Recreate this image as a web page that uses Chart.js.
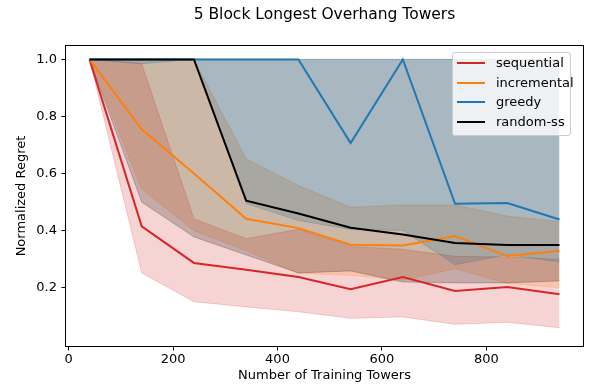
<!DOCTYPE html>
<html>
<head>
<meta charset="utf-8">
<script src="https://cdn.jsdelivr.net/npm/chart.js@4/dist/chart.umd.min.js"></script>
<style>
html,body{margin:0;padding:0;background:#fff;}
#wrap{position:relative;width:598px;height:385px;}
#title{position:absolute;left:124.5px;width:400px;top:5px;height:18px;line-height:18px;text-align:center;font-family:'DejaVu Sans',sans-serif;font-size:15.5px;color:#000;white-space:nowrap;}
#legend{position:absolute;left:452px;top:52px;width:119px;height:84px;box-sizing:border-box;border:1px solid #cccccc;border-radius:3px;background:rgba(255,255,255,0.8);font-family:'DejaVu Sans',sans-serif;font-size:13px;color:#000;}
.item{position:absolute;left:0;height:16px;width:115px;}
.sw{position:absolute;left:4px;top:7px;width:28px;height:2px;}
.lb{position:absolute;left:43px;top:0;line-height:16px;white-space:nowrap;}
</style>
</head>
<body>
<div id="wrap">
<canvas id="c" width="598" height="385"></canvas>
<div id="title"></div>
<div id="legend"></div>
</div>
<script>
// ---- data ----
const chartTitle = '5 Block Longest Overhang Towers';
const xLabel = 'Number of Training Towers';
const yLabel = 'Normalized Regret';
const xs = [40, 140, 240, 340, 440, 540, 640, 740, 840, 940];
const xTicks = [0, 200, 400, 600, 800];
const xTickLabels = ['0', '200', '400', '600', '800'];
const yTicks = [0.2, 0.4, 0.6, 0.8, 1.0];
const yTickLabels = ['0.2', '0.4', '0.6', '0.8', '1.0'];
const seriesNames = ['sequential', 'incremental', 'greedy', 'random-ss'];
const seriesColors = ['#d62728', '#ff7f0e', '#1f77b4', '#000000'];
const bandColors = ['rgba(214,39,40,0.2)', 'rgba(255,127,14,0.2)', 'rgba(31,119,180,0.2)', 'rgba(0,0,0,0.2)'];

const seqMean = [1.0, 0.415, 0.287, 0.263, 0.238, 0.195, 0.238, 0.189, 0.203, 0.177];
const seqHigh = [1.0, 0.985, 0.442, 0.372, 0.405, 0.345, 0.335, 0.31, 0.308, 0.3];
const seqLow  = [1.0, 0.252, 0.151, 0.133, 0.116, 0.093, 0.098, 0.072, 0.079, 0.06];

const incMean = [1.0, 0.755, 0.60, 0.442, 0.409, 0.351, 0.348, 0.381, 0.311, 0.329];
const incHigh = [1.0, 1.0, 1.0, 0.651, 0.558, 0.482, 0.49, 0.49, 0.451, 0.432];
const incLow  = [1.0, 0.546, 0.40, 0.33, 0.25, 0.244, 0.226, 0.267, 0.215, 0.20];

const grdMean = [1.0, 1.0, 1.0, 1.0, 1.0, 0.707, 1.0, 0.494, 0.497, 0.439];
const grdHigh = [1.0, 1.0, 1.0, 1.0, 1.0, 1.0, 1.0, 1.0, 1.0, 1.0];
const grdLow  = [1.0, 0.985, 1.0, 0.495, 0.436, 0.404, 0.401, 0.281, 0.316, 0.29];

const rsMean = [1.0, 1.0, 1.0, 0.505, 0.46, 0.41, 0.387, 0.357, 0.35, 0.35];
const rsHigh = [1.0, 1.0, 1.0, 1.0, 1.0, 1.0, 1.0, 1.0, 1.0, 1.0];
const rsLow  = [1.0, 0.50, 0.378, 0.315, 0.252, 0.259, 0.22, 0.217, 0.217, 0.224];

const means = [seqMean, incMean, grdMean, rsMean];
const highs = [seqHigh, incHigh, grdHigh, rsHigh];
const lows = [seqLow, incLow, grdLow, rsLow];

// ---- build datasets ----
const pts = arr => xs.map((x, i) => ({x: x, y: arr[i]}));
const datasets = [];
for (let s = 0; s < 4; s++) {
  const bandOrder = 4 + (3 - s) * 2;
  datasets.push({label: seriesNames[s] + ' hi', data: pts(highs[s]), borderColor: bandColors[s], borderWidth: 1,
    backgroundColor: bandColors[s], pointRadius: 0, fill: false, order: bandOrder, tension: 0});
  datasets.push({label: seriesNames[s] + ' lo', data: pts(lows[s]), borderColor: bandColors[s], borderWidth: 1,
    backgroundColor: bandColors[s], pointRadius: 0, fill: '-1', order: bandOrder + 1, tension: 0});
}
for (let s = 0; s < 4; s++) {
  datasets.push({label: seriesNames[s], data: pts(means[s]), borderColor: seriesColors[s], borderWidth: 2,
    pointRadius: 0, fill: false, order: 3 - s, tension: 0});
}

const font13 = {family: 'DejaVu Sans', size: 13, weight: 'normal'};

const spines = {
  id: 'spines',
  afterDatasetsDraw(chart) {
    const a = chart.chartArea, ctx = chart.ctx;
    ctx.save();
    ctx.strokeStyle = '#000';
    ctx.lineWidth = 1;
    ctx.strokeRect(Math.round(a.left) - 0.5, Math.round(a.top) - 0.5, Math.round(a.right - a.left) + 1, Math.round(a.bottom - a.top) + 1);
    ctx.restore();
  }
};

new Chart(document.getElementById('c'), {
  type: 'line',
  data: {datasets: datasets},
  plugins: [spines],
  options: {
    responsive: false,
    animation: false,
    devicePixelRatio: 1,
    layout: {padding: {left: 0, right: 15, top: 46, bottom: 0}},
    plugins: {
      legend: {display: false},
      tooltip: {enabled: false},
      title: {display: false}
    },
    scales: {
      x: {
        type: 'linear', min: -5, max: 985,
        afterBuildTicks: sc => { sc.ticks = xTicks.map(v => ({value: v})); },
        afterFit: sc => { sc.height = 39; },
        border: {display: false},
        grid: {display: true, drawOnChartArea: false, drawTicks: true, tickLength: 4.5, color: '#000', lineWidth: 1},
        ticks: {padding: 1, color: '#000', font: font13, maxRotation: 0, autoSkip: false,
          callback: (v, i) => xTickLabels[i]},
        title: {display: true, text: xLabel, color: '#000', font: font13, padding: {top: 0, bottom: 1.2}}
      },
      y: {
        type: 'linear', min: -0.004, max: 1.047,
        afterBuildTicks: sc => { sc.ticks = yTicks.map(v => ({value: v})); },
        afterFit: sc => { sc.width = 66; },
        border: {display: false},
        grid: {display: true, drawOnChartArea: false, drawTicks: true, tickLength: 4.5, color: '#000', lineWidth: 1},
        ticks: {padding: 4.5, color: '#000', font: font13, autoSkip: false,
          callback: (v, i) => yTickLabels[i]},
        title: {display: true, text: yLabel, color: '#000', font: font13, padding: {top: 14, bottom: 0}}
      }
    }
  }
});

document.getElementById('title').textContent = chartTitle;

// ---- legend ----
const lg = document.getElementById('legend');
const centers = [11.3, 30.7, 50, 69.7];
seriesNames.forEach((n, i) => {
  const it = document.createElement('div');
  it.className = 'item';
  it.style.top = (centers[i] - 1 - 8) + 'px';
  const sw = document.createElement('span');
  sw.className = 'sw';
  sw.style.background = seriesColors[i];
  const lb = document.createElement('span');
  lb.className = 'lb';
  lb.textContent = n;
  it.appendChild(sw); it.appendChild(lb);
  lg.appendChild(it);
});
</script>
</body>
</html>
